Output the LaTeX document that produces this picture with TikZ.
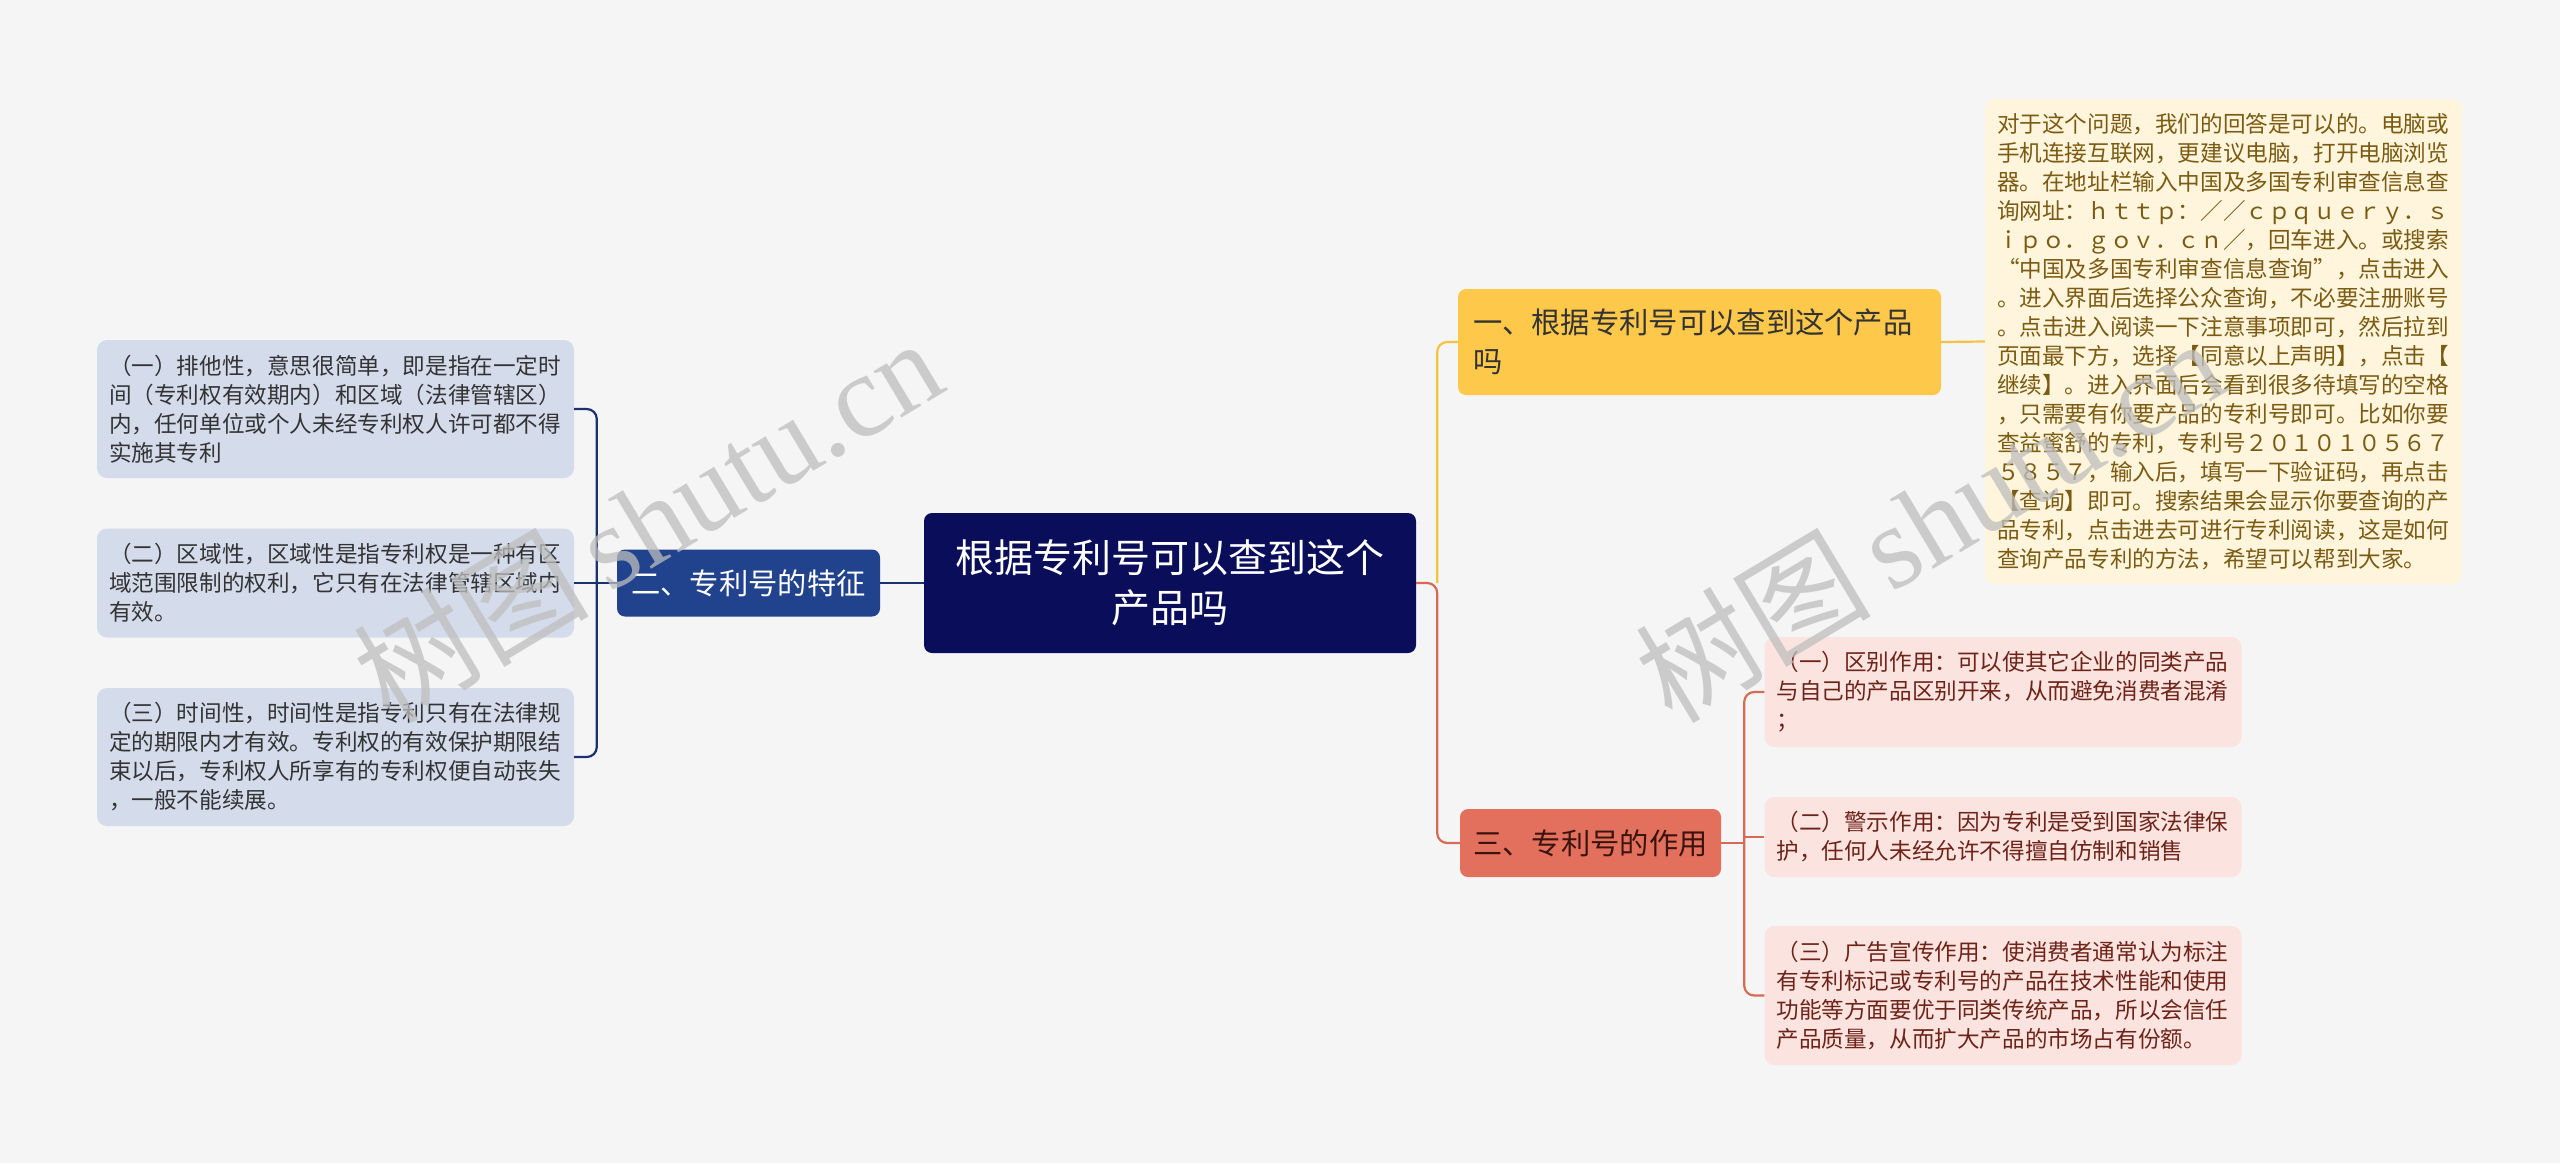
\documentclass[tikz,border=0pt]{standalone}
\usepackage{fontspec}
\setmainfont{Noto Sans CJK SC}
\newfontfamily\wmcjk{Noto Sans CJK SC}
\newfontfamily\wmlat{Liberation Serif}
\usetikzlibrary{calc}
\definecolor{bgc}{HTML}{F5F5F5}
\definecolor{navy}{RGB}{10,14,90}
\definecolor{bluen}{RGB}{33,66,140}
\definecolor{blueline}{RGB}{27,48,110}
\definecolor{lfill}{HTML}{D4DBEB}
\definecolor{ltext}{HTML}{333333}
\definecolor{ynode}{HTML}{FEC84B}
\definecolor{yfill}{HTML}{FEF5DC}
\definecolor{ytext}{HTML}{7B5B12}
\definecolor{yline}{HTML}{F5C342}
\definecolor{rnode}{HTML}{E2705C}
\definecolor{rntext}{RGB}{60,20,15}
\definecolor{rfill}{HTML}{FBE4DF}
\definecolor{rtext}{HTML}{6E2319}
\definecolor{rline}{HTML}{D76955}
\definecolor{wmc}{RGB}{190,190,190}
\tikzset{
  leaf/.style={rounded corners=10pt, inner xsep=12pt, inner ysep=6pt, align=left,
    text width=453pt, font=\fontsize{22.6}{29}\selectfont},
  lbox/.style={leaf, fill=lfill, text=ltext},
  rbox/.style={leaf, fill=rfill, text=rtext},
  ybox/.style={leaf, fill=yfill, text=ytext},
  topic/.style={rounded corners=8pt, inner sep=0pt, font=\fontsize{29.3}{39}\selectfont},
  link/.style={line width=2.2pt, rounded corners=10pt},
  wm/.style={rotate=31, text=wmc, opacity=0.75, inner sep=0pt}
}
\begin{document}
\begin{tikzpicture}[x=1pt,y=-1pt]
\useasboundingbox (0,0) rectangle (2560,1163);
\fill[bgc] (0,0) rectangle (2560,1163);

% central topic
\node[rounded corners=8pt, fill=navy, text=white, minimum width=492pt, minimum height=140pt,
  align=center, font=\fontsize{39}{50}\selectfont] (c) at (1170,583)
  {根据专利号可以查到这个\\产品吗};

% main branches
\node[topic, fill=ynode, text=ltext, minimum width=483pt, minimum height=106pt, align=left,
  text width=453pt] (n1) at (1699.5,342) {一、根据专利号可以查到这个产品\\吗};
\node[topic, fill=bluen, text=white, minimum width=263pt, minimum height=67pt] (n2) at (748.5,583) {二、专利号的特征};
\node[topic, fill=rnode, text=rntext, minimum width=261pt, minimum height=68pt] (n3) at (1590.5,843) {三、专利号的作用};

% yellow answer box
\node[ybox, minimum height=485pt] (Y) at (2223.5,341.5) {对于这个问题，我们的回答是可以的。电脑或\\
手机连接互联网，更建议电脑，打开电脑浏览\\
器。在地址栏输入中国及多国专利审查信息查\\
询网址：ｈｔｔｐ：／／ｃｐｑｕｅｒｙ．ｓ\\
ｉｐｏ．ｇｏｖ．ｃｎ／，回车进入。或搜索\\
“中国及多国专利审查信息查询”，点击进入\\
。进入界面后选择公众查询，不必要注册账号\\
。点击进入阅读一下注意事项即可，然后拉到\\
页面最下方，选择【同意以上声明】，点击【\\
继续】。进入界面后会看到很多待填写的空格\\
，只需要有你要产品的专利号即可。比如你要\\
查益蜜舒的专利，专利号２０１０１０５６７\\
５８５７，输入后，填写一下验证码，再点击\\
【查询】即可。搜索结果会显示你要查询的产\\
品专利，点击进去可进行专利阅读，这是如何\\
查询产品专利的方法，希望可以帮到大家。};

% left leaves
\node[lbox, minimum height=138pt] (L1) at (335.5,409) {（一）排他性，意思很简单，即是指在一定时\\
间（专利权有效期内）和区域（法律管辖区）\\
内，任何单位或个人未经专利权人许可都不得\\
实施其专利};
\node[lbox, minimum height=109pt] (L2) at (335.5,583) {（二）区域性，区域性是指专利权是一种有区\\
域范围限制的权利，它只有在法律管辖区域内\\
有效。};
\node[lbox, minimum height=138pt] (L3) at (335.5,757) {（三）时间性，时间性是指专利只有在法律规\\
定的期限内才有效。专利权的有效保护期限结\\
束以后，专利权人所享有的专利权便自动丧失\\
，一般不能续展。};

% right leaves
\node[rbox, minimum height=110pt] (R1) at (2003,692) {（一）区别作用：可以使其它企业的同类产品\\
与自己的产品区别开来，从而避免消费者混淆\\
；};
\node[rbox, minimum height=80pt] (R2) at (2003,837) {（二）警示作用：因为专利是受到国家法律保\\
护，任何人未经允许不得擅自仿制和销售};
\node[rbox, minimum height=139pt] (R3) at (2003,995.5) {（三）广告宣传作用：使消费者通常认为标注\\
有专利标记或专利号的产品在技术性能和使用\\
功能等方面要优于同类传统产品，所以会信任\\
产品质量，从而扩大产品的市场占有份额。};

% junction points
\coordinate (jC) at ($(c.east)+(21,0)$);
\coordinate (jL) at ($(n2.west)+(-20,0)$);
\coordinate (jR) at ($(n3.east)+(23,0)$);

% connectors
\draw[link, yline] (jC) |- (n1.west);
\draw[link, rline] (c.east) -- (jC) |- (n3.west);
\draw[link, yline] (n1.east) -- (Y.west);
\draw[link, blueline] (c.west) -- (n2.east);
\draw[link, blueline] (L1.east) -| (jL) |- (L3.east);
\draw[link, blueline] (n2.west) -- (L2.east);
\draw[link, rline] (R1.west) -| (jR) |- (R3.west);
\draw[link, rline] (n3.east) -- (jR);
\draw[link, rline] (jR |- R2.west) -- (R2.west);

% watermarks
\node[wm] (w1) at (647,519) {\wmcjk\fontsize{118}{118}\selectfont 树图\,\wmlat shutu.cn};
\node[wm] (w2) at (1929,519) {\wmcjk\fontsize{118}{118}\selectfont 树图\,\wmlat shutu.cn};
\end{tikzpicture}
\end{document}
